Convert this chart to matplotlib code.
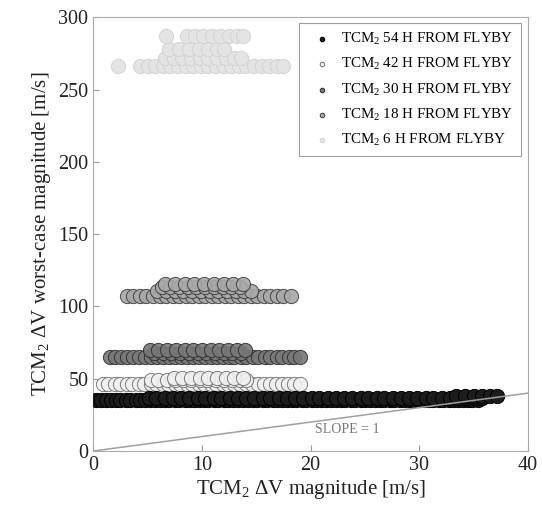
import matplotlib
matplotlib.use("Agg")
import matplotlib.pyplot as plt
import numpy as np

plt.rcParams['font.family'] = ['Liberation Serif', 'DejaVu Serif']
plt.rcParams['mathtext.fontset'] = 'custom'
plt.rcParams['mathtext.rm'] = 'Liberation Serif'
plt.rcParams['mathtext.it'] = 'Liberation Serif:italic'

# rows of points for each TCM2 timing: (worst-case magnitude, list of dV magnitudes)
h54_y = [35.0, 36.6, 38.0]
h54_x = [[0.3, 0.7, 1.2, 1.6, 2.1, 2.5, 3.0, 3.4, 3.9, 4.3, 4.8, 5.2, 5.7, 6.1, 6.6, 7.0,
          7.5, 7.9, 8.4, 8.8, 9.3, 9.7, 10.2, 10.6, 11.1, 11.5, 12.0, 12.4, 12.9, 13.3,
          13.8, 14.2, 14.7, 15.1, 15.6, 16.0, 16.5, 16.9, 17.4, 17.8, 18.3, 18.7, 19.2,
          19.6, 20.1, 20.5, 21.0, 21.4, 21.9, 22.3, 22.8, 23.2, 23.7, 24.1, 24.6, 25.0,
          25.5, 25.9, 26.4, 26.8, 27.3, 27.7, 28.2, 28.6, 29.1, 29.5, 30.0, 30.4, 30.9,
          31.3, 31.8, 32.2, 32.7, 33.1, 33.6, 34.0, 34.5, 34.9, 35.4],
         [5.1, 5.8, 6.6, 7.3, 8.1, 8.8, 9.6, 10.3, 11.1, 11.8, 12.6, 13.3, 14.1, 14.8, 15.6,
          16.3, 17.1, 17.8, 18.6, 19.3, 20.1, 20.8, 21.6, 22.3, 23.1, 23.8, 24.6, 25.3,
          26.1, 26.8, 27.6, 28.3, 29.1, 29.8, 30.6, 31.3, 32.1, 32.8, 33.6, 34.3, 35.1, 35.8],
         [33.4, 34.2, 35.0, 35.8, 36.5, 37.2]]

h42_y = [46.5, 48.8, 50.6]
h42_x = [[0.9, 1.4, 2.0, 2.5, 3.1, 3.6, 4.2, 4.7, 5.3, 5.8, 6.4, 6.9, 7.5, 8.0, 8.6, 9.1,
          9.7, 10.2, 10.8, 11.3, 11.9, 12.4, 13.0, 13.5, 14.1, 14.6, 15.2, 15.7, 16.3,
          16.8, 17.4, 17.9, 18.5, 19.0],
         [5.3, 6.0, 6.8, 7.5, 8.3, 9.0, 9.8, 10.5, 11.3, 12.0, 12.8, 13.5, 14.1],
         [7.4, 8.2, 9.0, 9.8, 10.6, 11.4, 12.2, 13.0, 13.8]]

h30_y = [65.0, 67.8, 70.2]
h30_x = [[1.5, 2.0, 2.6, 3.1, 3.7, 4.2, 4.8, 5.3, 5.9, 6.4, 7.0, 7.5, 8.1, 8.6, 9.2, 9.7,
          10.3, 10.8, 11.4, 11.9, 12.5, 13.0, 13.6, 14.1, 14.7, 15.2, 15.8, 16.3, 16.9,
          17.4, 18.0, 18.5, 19.0],
         [5.6, 6.4, 7.2, 8.0, 8.8, 9.6, 10.4, 11.2, 12.0, 12.8, 13.6],
         [5.2, 6.0, 6.8, 7.6, 8.4, 9.2, 10.0, 10.8, 11.6, 12.4, 13.2, 14.0]]

h18_y = [107.3, 110.5, 113.3, 115.8]
h18_x = [[3.1, 3.7, 4.3, 4.9, 5.5, 6.1, 6.7, 7.3, 7.9, 8.5, 9.1, 9.7, 10.3, 10.9, 11.5,
          12.1, 12.7, 13.3, 13.9, 14.5, 15.1, 15.7, 16.3, 16.9, 17.5, 18.2],
         [5.9, 6.7, 7.5, 8.3, 9.1, 9.9, 10.7, 11.5, 12.3, 13.1, 13.9, 14.5],
         [6.3, 7.1, 7.9, 8.7, 9.5, 10.3, 11.1, 11.9, 12.7, 13.5],
         [6.6, 7.5, 8.4, 9.3, 10.2, 11.1, 12.0, 12.9, 13.8]]

h6_y = [266.5, 271.8, 278.0, 287.0]
h6_x = [[2.3, 4.3, 5.0, 5.7, 6.4, 7.1, 7.8, 8.5, 9.2, 9.9, 10.6, 11.3, 12.0, 12.7, 13.4,
         14.1, 14.8, 15.5, 16.2, 16.9, 17.5],
        [6.6, 7.4, 8.2, 9.0, 9.8, 10.6, 11.4, 12.2, 13.0, 13.6],
        [7.0, 7.9, 8.8, 9.7, 10.6, 11.4, 12.0],
        [6.7, 8.6, 9.4, 10.1, 10.9, 11.7, 12.5, 13.2, 13.8]]

labels = ['TCM$_2$ 54 H FROM FLYBY', 'TCM$_2$ 42 H FROM FLYBY', 'TCM$_2$ 30 H FROM FLYBY',
          'TCM$_2$ 18 H FROM FLYBY', 'TCM$_2$ 6 H FROM FLYBY']

groups = [(h54_x, h54_y), (h42_x, h42_y), (h30_x, h30_y), (h18_x, h18_y), (h6_x, h6_y)]
faces = ['#1c1c1c', '#f0f0f0', '#777777', '#a8a8a8', '#e4e4e4']
edges = ['#000000', '#707070', '#2e2e2e', '#3a3a3a', '#d4d4d4']
alphas = [1.0, 0.9, 0.9, 0.9, 1.0]
zorders = [6, 3, 4, 5, 7]

fig = plt.figure(figsize=(5.42, 5.22), dpi=100)
ax = fig.add_axes([0.172, 0.136, 0.802, 0.831])

for (xs, ys), lab, fc, ec, a, z in zip(groups, labels, faces, edges, alphas, zorders):
    px = []
    py = []
    for row_x, row_y in zip(xs, ys):
        px += row_x
        py += [row_y] * len(row_x)
    ax.scatter(px, py, s=105, facecolor=fc, edgecolor=ec, linewidth=0.7, alpha=a,
               label=lab, zorder=z)

# slope = 1 reference line
ax.plot([0, 40], [0, 40], color='#a0a0a0', linewidth=1.1, zorder=8)
ax.text(20.4, 12.5, 'SLOPE = 1', color='#777777', fontsize=10, zorder=9)

ax.set_xlim(0, 40)
ax.set_ylim(0, 300)
ax.set_xticks([0, 10, 20, 30, 40])
ax.set_yticks([0, 50, 100, 150, 200, 250, 300])
ax.tick_params(direction='in', length=4, colors='#999999', labelcolor='#222222', labelsize=14.5)
for sp in ax.spines.values():
    sp.set_color('#aaaaaa')
ax.set_xlabel('TCM$_2$ ΔV magnitude [m/s]', fontsize=15, color='#222222', labelpad=2)
ax.set_ylabel('TCM$_2$ ΔV worst-case magnitude [m/s]', fontsize=15, color='#222222', labelpad=4)

leg = ax.legend(loc='upper right', fontsize=10.8, markerscale=0.32, handletextpad=0.3,
                frameon=True, fancybox=False, borderpad=0.5, labelspacing=0.62,
                borderaxespad=0, bbox_to_anchor=(0.984, 0.986))
for h in leg.legend_handles:
    h.set_alpha(1.0)
leg.get_frame().set_edgecolor('#888888')
leg.get_frame().set_linewidth(0.8)
leg.set_zorder(10)

fig.savefig('out.png', dpi=100, facecolor='white')
